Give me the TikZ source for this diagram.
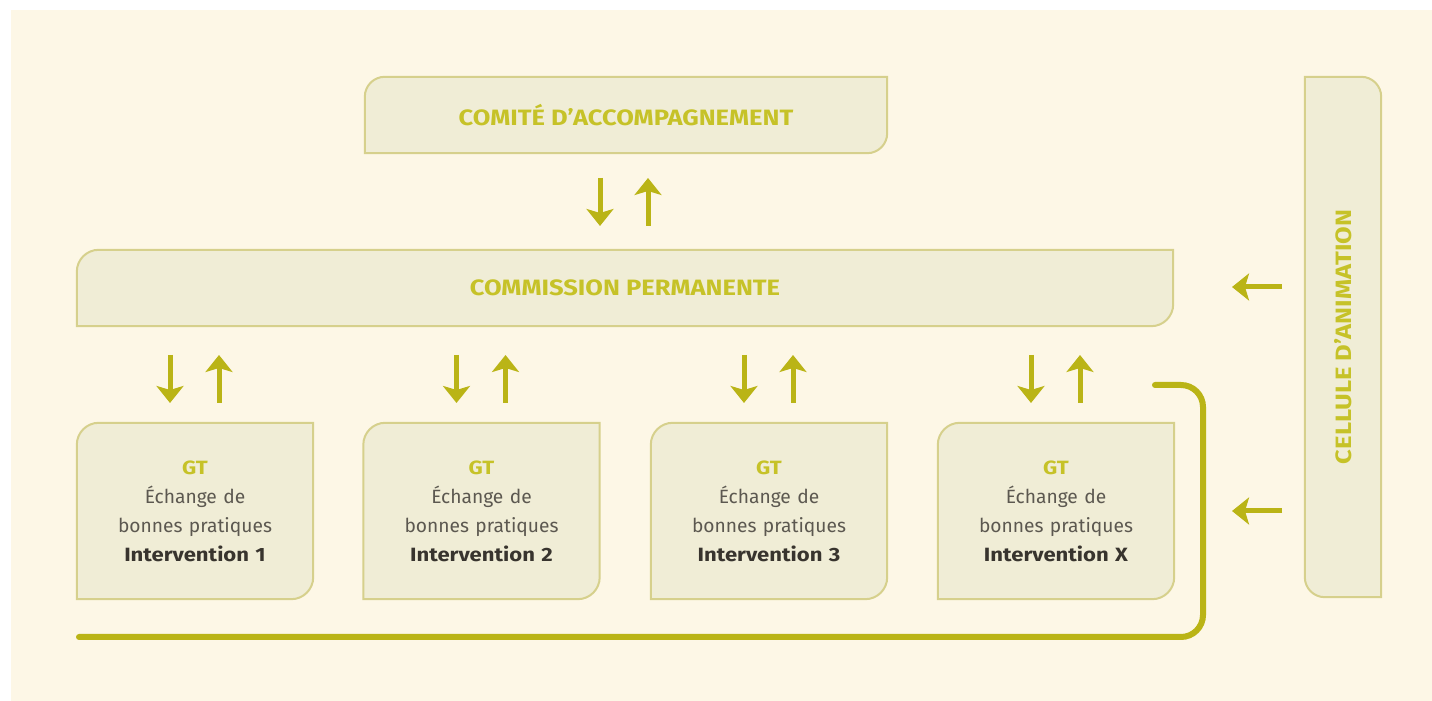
\documentclass[tikz,border=0pt]{standalone}
\usepackage{fontspec}
\setmainfont{Fira Sans}[BoldFeatures={FakeStretch=1.15}]
\usetikzlibrary{arrows.meta}
\pgfdeclarelayer{bottom}
\pgfdeclarelayer{frames}
\pgfsetlayers{bottom,frames,main}
\definecolor{bgc}{RGB}{253,247,230}
\definecolor{boxfill}{RGB}{240,237,214}
\definecolor{boxline}{RGB}{214,208,140}
\definecolor{arrc}{RGB}{186,180,22}
\definecolor{titlec}{RGB}{198,194,40}
\definecolor{bodyc}{RGB}{92,88,80}
\definecolor{darkc}{RGB}{56,52,46}
\newcommand\frameTLBR[2]{%
  \draw[boxframe] ([xshift=#2pt]#1.north west) -- (#1.north east) -- ([yshift=#2pt]#1.south east)
    arc[start angle=0,end angle=-90,radius=#2] -- (#1.south west) -- ([yshift=-#2pt]#1.north west)
    arc[start angle=180,end angle=90,radius=#2] -- cycle;}
\newcommand\frameTRBL[2]{%
  \draw[boxframe] (#1.north west) -- ([xshift=-#2pt]#1.north east)
    arc[start angle=90,end angle=0,radius=#2] -- (#1.south east) -- ([xshift=#2pt]#1.south west)
    arc[start angle=270,end angle=180,radius=#2] -- cycle;}
\begin{document}
\begin{tikzpicture}[x=1pt,y=1pt,
  boxframe/.style={draw=boxline,fill=boxfill,line width=2pt},
  titlebox/.style={inner sep=0pt,font=\fontsize{22.2}{26}\selectfont\bfseries,text=titlec},
  gtbox/.style={inner sep=0pt,minimum width=236pt,minimum height=176pt,text width=230pt,align=center,
    font=\fontsize{19.2}{29}\selectfont,text=bodyc},
  arr/.style={line width=5pt,draw=arrc,-{Stealth[length=17pt,width=27pt,inset=4pt]}},
  loopline/.style={line width=6pt,draw=arrc,rounded corners=22pt,line cap=round}]
\useasboundingbox (0,0) rectangle (1432,701);
\begin{pgfonlayer}{bottom}
\fill[white] (0,0) rectangle (1432,701);
\fill[bgc] (11,0) rectangle (1432,691);
\end{pgfonlayer}

\node[titlebox,minimum width=522pt,minimum height=76pt] (ca) at (626,586) {COMITÉ D’ACCOMPAGNEMENT};
\node[titlebox,minimum width=1096pt,minimum height=76pt] (cp) at (625,413) {COMMISSION PERMANENTE};
\node[titlebox,minimum width=76pt,minimum height=520pt] (cel) at (1343,364) {\rotatebox{90}{CELLULE D’ANIMATION}};

\node[gtbox] (g1) at (195,190) {{\bfseries\color{titlec}GT}\\Échange de\\bonnes pratiques\\{\bfseries\color{darkc}Intervention 1}};
\node[gtbox] (g2) at (481.5,190) {{\bfseries\color{titlec}GT}\\Échange de\\bonnes pratiques\\{\bfseries\color{darkc}Intervention 2}};
\node[gtbox] (g3) at (769,190) {{\bfseries\color{titlec}GT}\\Échange de\\bonnes pratiques\\{\bfseries\color{darkc}Intervention 3}};
\node[gtbox] (g4) at (1056,190) {{\bfseries\color{titlec}GT}\\Échange de\\bonnes pratiques\\{\bfseries\color{darkc}Intervention X}};

\begin{pgfonlayer}{frames}
  \frameTLBR{ca}{20}
  \frameTLBR{cp}{22}
  \frameTLBR{g1}{22}
  \frameTLBR{g2}{22}
  \frameTLBR{g3}{22}
  \frameTLBR{g4}{22}
  \frameTRBL{cel}{20}
\end{pgfonlayer}

% arrows between comite and commission
\coordinate (a1t) at (600,523); \coordinate (a1b) at (600,475);
\coordinate (a2t) at (648,523); \coordinate (a2b) at (648,475);
\draw[arr] (a1t) -- (a1b);
\draw[arr] (a2b) -- (a2t);

% arrows between commission and GT
\foreach \n/\cx in {1/195,2/481.5,3/769,4/1056}{
  \coordinate (d\n t) at (\cx-25,346); \coordinate (d\n b) at (\cx-25,298);
  \coordinate (u\n t) at (\cx+24,346); \coordinate (u\n b) at (\cx+24,298);
  \draw[arr] (d\n t) -- (d\n b);
  \draw[arr] (u\n b) -- (u\n t);
}

% arrows from cellule
\coordinate (l1s) at (1282,414); \coordinate (l1e) at (1232,414);
\coordinate (l2s) at (1282,190); \coordinate (l2e) at (1232,190);
\draw[arr] (l1s) -- (l1e);
\draw[arr] (l2s) -- (l2e);

% loop line
\coordinate (lpa) at (79,64); \coordinate (lpb) at (1203,64);
\coordinate (lpc) at (1203,316); \coordinate (lpd) at (1155,316);
\draw[loopline] (lpa) -- (lpb) -- (lpc) -- (lpd);
\end{tikzpicture}
\end{document}
